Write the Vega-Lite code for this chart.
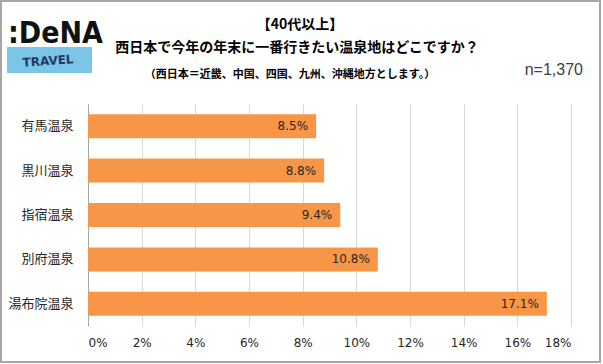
{
  "$schema": "https://vega.github.io/schema/vega-lite/v6.json",
  "width": 483,
  "height": 222,
  "autosize": {"type": "none"},
  "padding": {"left": 88, "top": 104, "right": 32, "bottom": 38},
  "background": "white",
  "layer": [
    {
      "data": {"values": [{"k": 1}]},
      "mark": {"type": "rect", "fill": null, "stroke": "#A6A6A6", "strokeWidth": 2},
      "encoding": {
        "x": {"value": -87},
        "x2": {"value": 512},
        "y": {"value": -103},
        "y2": {"value": 258}
      }
    },
    {
      "data": {"values": [{"k": 1}]},
      "mark": {"type": "rect", "fill": "#7CC5E8"},
      "encoding": {
        "x": {"value": -81},
        "x2": {"value": 4},
        "y": {"value": -57},
        "y2": {"value": -31}
      }
    },
    {
      "data": {"values": [{"t": "TRAVEL"}]},
      "mark": {"type": "text", "font": "DejaVu Sans", "fontWeight": "bold", "fontSize": 12, "color": "#1F3864", "angle": -4, "align": "center", "baseline": "middle"},
      "encoding": {
        "x": {"value": -40},
        "y": {"value": -43},
        "text": {"field": "t"}
      }
    },
    {
      "data": {"values": [{"t": ":DeNA"}]},
      "mark": {"type": "text", "font": "DejaVu Sans Condensed", "fontWeight": "bold", "fontSize": 30, "color": "#111111", "align": "left", "baseline": "alphabetic"},
      "encoding": {
        "x": {"value": -80},
        "y": {"value": -61},
        "text": {"field": "t"}
      }
    },
    {
      "data": {"values": [{"t": "n=1,370"}]},
      "mark": {"type": "text", "font": "Liberation Sans", "fontSize": 16, "color": "#404040", "align": "right", "baseline": "middle"},
      "encoding": {
        "x": {"value": 495},
        "y": {"value": -34},
        "text": {"field": "t"}
      }
    },
    {
      "data": {"values": [{"t": "【40代以上】"}]},
      "mark": {"type": "text", "font": "Noto Sans CJK JP", "fontWeight": "bold", "fontSize": 14, "color": "#000000", "align": "center", "baseline": "middle"},
      "encoding": {
        "x": {"value": 212},
        "y": {"value": -79},
        "text": {"field": "t"}
      }
    },
    {
      "data": {"values": [{"t": "西日本で今年の年末に一番行きたい温泉地はどこですか？"}]},
      "mark": {"type": "text", "font": "Noto Sans CJK JP", "fontWeight": "bold", "fontSize": 14, "color": "#000000", "align": "center", "baseline": "middle"},
      "encoding": {
        "x": {"value": 209},
        "y": {"value": -56},
        "text": {"field": "t"}
      }
    },
    {
      "data": {"values": [{"t": "（西日本＝近畿、中国、四国、九州、沖縄地方とします。）"}]},
      "mark": {"type": "text", "font": "Noto Sans CJK JP", "fontWeight": "bold", "fontSize": 11, "color": "#000000", "align": "center", "baseline": "middle"},
      "encoding": {
        "x": {"value": 202},
        "y": {"value": -29},
        "text": {"field": "t"}
      }
    },
    {
      "data": {
        "values": [
          {"name": "有馬温泉", "value": 8.5},
          {"name": "黒川温泉", "value": 8.8},
          {"name": "指宿温泉", "value": 9.4},
          {"name": "別府温泉", "value": 10.8},
          {"name": "湯布院温泉", "value": 17.1}
        ]
      },
      "transform": [{"calculate": "format(datum.value, '.1f') + '%'", "as": "label"}],
      "encoding": {
        "y": {
          "field": "name",
          "type": "nominal",
          "sort": null,
          "scale": {"paddingInner": 0.46, "paddingOuter": 0.23},
          "axis": {
            "title": null,
            "ticks": false,
            "domainColor": "#A6A6A6",
            "labelFont": "Noto Sans CJK JP",
            "labelFontSize": 13,
            "labelColor": "#262626",
            "labelPadding": 15
          }
        },
        "x": {
          "field": "value",
          "type": "quantitative",
          "scale": {"domain": [0, 18]},
          "axis": {
            "title": null,
            "values": [0, 2, 4, 6, 8, 10, 12, 14, 16, 18],
            "labelExpr": "datum.value + '%'",
            "domain": false,
            "ticks": false,
            "grid": true,
            "gridColor": "#D9D9D9",
            "labelFont": "DejaVu Sans",
            "labelFontSize": 12,
            "labelColor": "#262626",
            "labelPadding": 11
          }
        }
      },
      "layer": [
        {"mark": {"type": "bar", "color": "#F79646"}},
        {
          "mark": {"type": "text", "align": "right", "baseline": "middle", "dx": -8, "font": "DejaVu Sans", "fontSize": 12, "color": "#262626"},
          "encoding": {"text": {"field": "label"}}
        }
      ]
    }
  ],
  "config": {"view": {"stroke": null}}
}
